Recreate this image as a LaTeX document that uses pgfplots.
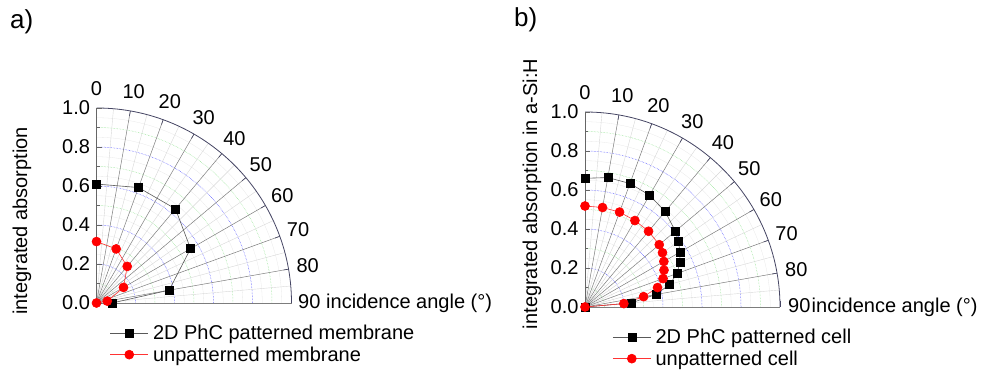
\documentclass[border=0pt]{standalone}
\usepackage{pgfplots}
\usepackage{pgfplotstable}
\pgfplotsset{compat=1.18}
\usepackage{fontspec}
\setmainfont{Liberation Sans}
\newcommand\fz{\fontsize{20}{24}\selectfont}
\definecolor{gridblue}{RGB}{70,70,255}
\definecolor{gridgreen}{RGB}{140,225,140}
\definecolor{arccol}{RGB}{70,70,100}
\definecolor{radmaj}{RGB}{125,125,125}
\definecolor{radmin}{RGB}{215,215,215}

\pgfplotstableread{
t r
0 0.61
20 0.63
40 0.63
60 0.557
80 0.378
90 0.08
}\blackA
\pgfplotstableread{
t r
0 0.315
20 0.295
40 0.245
60 0.16
80 0.056
90 0.0
}\redA
\pgfplotstableread{
t r
0 0.66
10 0.674
20 0.674
30 0.662
40 0.639
50 0.605
55 0.585
60 0.562
65 0.537
70 0.502
75 0.45
80 0.37
85 0.236
90 0.0
}\blackB
\pgfplotstableread{
t r
0 0.518
10 0.518
20 0.518
30 0.512
40 0.507
50 0.497
55 0.485
60 0.467
65 0.447
70 0.426
75 0.385
80 0.305
85 0.20
90 0.0
}\redB

\newcommand\polargrid[4]{% #1 cx, #2 cy, #3 shift of "90", #4 shift of text
  \begin{scope}[shift={(#1,#2)}]
    \foreach \r in {0.05,0.15,0.25,0.35,0.45,0.55,0.65,0.75,0.85,0.95}
      \draw[gray!18, line width=0.3pt] (0pt,\r*195pt) arc[start angle=90,end angle=0,radius=\r*195pt];
    \foreach \r in {0.1,0.3,0.5,0.7,0.9}
      \draw[gridgreen, densely dotted, line width=0.5pt] (0pt,\r*195pt) arc[start angle=90,end angle=0,radius=\r*195pt];
    \foreach \r in {0.2,0.4,0.6,0.8}
      \draw[gridblue, densely dotted, line width=0.5pt] (0pt,\r*195pt) arc[start angle=90,end angle=0,radius=\r*195pt];
    \foreach \a in {5,15,25,35,45,55,65,75,85}
      \draw[radmin, line width=0.4pt] (0pt,0pt) -- ({90-\a}:195pt);
    \foreach \a in {10,20,30,40,50,60,70,80}
      \draw[radmaj, line width=0.5pt] (0pt,0pt) -- ({90-\a}:195pt);
    \draw[radmaj, line width=0.6pt] (0pt,0pt) -- (195pt,0pt);
    \draw[arccol, line width=0.8pt] (0pt,195pt) arc[start angle=90,end angle=0,radius=195pt];
    \foreach \a in {10,20,30,40,50,60,70,80}
      \draw[arccol, line width=0.6pt] ({90-\a}:190pt) -- ({90-\a}:195pt);
    \draw[arccol, line width=0.6pt] (195pt,0pt) -- (195pt,6pt);
    \foreach \a in {0,10,20,30,40,50,60,70,80}
      \node[font=\fz, inner sep=0pt] at ({90-\a}:214.5pt) {\a};
    \node[font=\fz, inner sep=0pt, anchor=base west] at (#3,-5.5pt) {90};
    \node[font=\fz, inner sep=0pt, anchor=base west] at (#4,-5.5pt) {incidence angle (°)};
  \end{scope}}

\pgfplotsset{
  polstyle/.style={
    scale only axis, width=195pt, height=195pt,
    xmin=0, xmax=1, ymin=0, ymax=1,
    axis x line=none, axis y line*=left,
    clip=false,
    axis line style={black!60, line width=0.8pt},
    ytick={0,0.2,0.4,0.6,0.8,1},
    minor ytick={0.1,0.3,0.5,0.7,0.9},
    major tick length=5pt, minor tick length=3pt,
    tick style={black!60, line width=0.6pt},
    tick align=inside,
    /pgf/number format/assume math mode=true,
    yticklabel style={font=\fz, xshift=-3pt,
      /pgf/number format/fixed, /pgf/number format/fixed zerofill,
      /pgf/number format/precision=1},
    legend cell align=left,
    legend style={draw=none, fill=none, font=\fz, inner sep=0pt,
      row sep=2.5pt, nodes={inner sep=1.5pt}, column sep=3pt},
    legend image code/.code={\draw[mark repeat=2,mark phase=2] plot coordinates {(0pt,0pt) (19pt,0pt) (38pt,0pt)};},
  },
  blk/.style={black!65, line width=0.6pt, mark=square*, mark size=4pt, mark options={black, solid}},
  rd/.style={red!80, line width=0.6pt, mark=*, mark size=4.5pt, mark options={red, solid}},
}

\begin{document}
\begin{tikzpicture}
\useasboundingbox (0pt,0pt) rectangle (985pt,371pt);

% panel a
\polargrid{96.5pt}{68pt}{201.5pt}{229.5pt}
\begin{axis}[polstyle, at={(96.5pt,68pt)}, anchor=south west,
  legend style={at={(0.068,-0.105)}, anchor=north west}]
\addplot[blk] table[x expr={\thisrow{r}*sin(\thisrow{t})}, y expr={\thisrow{r}*cos(\thisrow{t})}] {\blackA};
\addlegendentry{2D PhC patterned membrane}
\addplot[rd] table[x expr={\thisrow{r}*sin(\thisrow{t})}, y expr={\thisrow{r}*cos(\thisrow{t})}] {\redA};
\addlegendentry{unpatterned membrane}
\end{axis}
\node[font=\fz, rotate=90] at (22pt,150pt) {integrated absorption};
\node[font=\fontsize{26}{30}\selectfont, anchor=west, inner sep=0pt] at (10pt,349pt) {a)};

% panel b
\polargrid{585pt}{64pt}{203pt}{226.5pt}
\begin{axis}[polstyle, at={(585pt,64pt)}, anchor=south west,
  legend style={at={(0.14,-0.105)}, anchor=north west}]
\addplot[blk] table[x expr={\thisrow{r}*sin(\thisrow{t})}, y expr={\thisrow{r}*cos(\thisrow{t})}] {\blackB};
\addlegendentry{2D PhC patterned cell}
\addplot[rd] table[x expr={\thisrow{r}*sin(\thisrow{t})}, y expr={\thisrow{r}*cos(\thisrow{t})}] {\redB};
\addlegendentry{unpatterned cell}
\end{axis}
\node[font=\fz, rotate=90] at (532pt,177pt) {integrated absorption in a-Si:H};
\node[font=\fontsize{26}{30}\selectfont, anchor=west, inner sep=0pt] at (514pt,351pt) {b)};
\end{tikzpicture}
\end{document}
